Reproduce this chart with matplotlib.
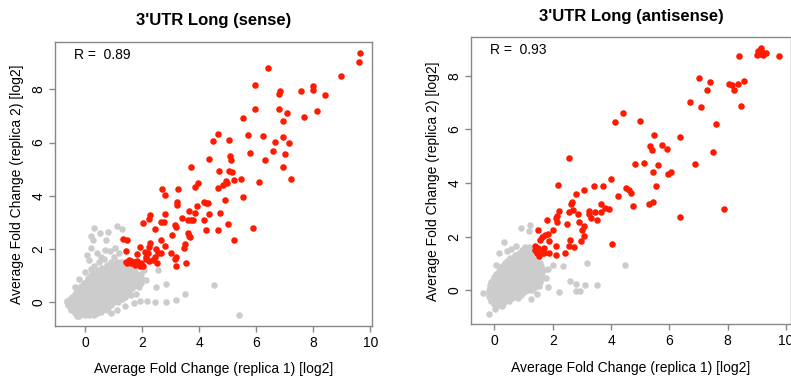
import matplotlib
matplotlib.use("Agg")
import matplotlib.pyplot as plt

plt.rcParams['font.family'] = ['Liberation Sans', 'DejaVu Sans']

# ---- data (log2 fold change, replica 1 vs replica 2) ----
titles = ["3'UTR Long (sense)", "3'UTR Long (antisense)"]
r_values = ["0.89", "0.93"]
xticks = [0, 2, 4, 6, 8, 10]
yticks = [0, 2, 4, 6, 8]

sense_red = [
    (9.65, 9.37), (9.61, 9.04), (6.41, 8.80), (8.97, 8.51), (5.96, 8.15), (8.0, 8.13),
    (8.0, 7.97), (7.58, 7.95), (6.82, 7.95), (6.79, 7.82), (8.41, 7.78), (5.97, 7.26),
    (6.79, 7.27), (8.12, 7.18), (7.07, 7.10), (7.67, 6.98), (5.55, 6.91), (6.95, 6.80),
    (4.66, 6.32), (5.72, 6.28), (6.22, 6.26), (5.03, 6.10), (6.95, 6.22), (4.48, 6.06),
    (6.66, 6.01), (7.16, 5.97), (6.58, 5.69), (5.79, 5.59), (7.01, 5.57), (4.34, 5.37),
    (5.09, 5.49), (5.10, 5.33), (6.31, 5.34), (3.71, 5.09), (6.93, 5.08), (4.68, 4.93),
    (5.06, 4.92), (5.15, 4.91), (7.21, 4.63), (5.23, 4.58), (5.48, 4.63), (4.95, 4.54),
    (4.99, 4.47), (4.85, 4.41), (3.97, 4.47), (6.10, 4.51), (3.85, 4.32), (4.67, 4.28),
    (2.70, 4.24), (3.27, 4.27), (2.79, 4.04), (5.52, 3.94), (4.92, 3.83), (4.15, 3.78),
    (4.22, 3.74), (4.29, 3.72), (3.22, 3.75), (3.23, 3.65), (3.92, 3.62), (3.84, 3.34),
    (3.63, 3.43), (2.80, 3.33), (4.73, 3.34), (4.36, 3.30), (2.26, 3.28), (2.24, 3.13),
    (3.38, 3.18), (3.78, 3.09), (3.72, 3.09), (3.62, 3.09), (4.15, 3.09), (2.67, 3.02),
    (2.75, 3.02), (2.01, 2.99), (5.01, 2.93), (3.14, 2.90), (3.17, 2.84), (2.44, 2.74),
    (5.88, 2.78), (4.22, 2.70), (4.66, 2.70), (3.62, 2.59), (3.65, 2.50), (3.66, 2.43),
    (3.05, 2.52), (1.33, 2.38), (1.45, 2.32), (2.66, 2.34), (5.22, 2.35), (3.50, 2.18),
    (2.28, 2.24), (2.24, 2.09), (2.81, 2.10), (1.91, 2.07), (1.44, 1.93), (3.47, 2.03),
    (2.09, 1.90), (2.21, 1.84), (2.50, 1.99), (2.56, 1.86), (3.02, 1.84), (2.67, 1.84),
    (1.82, 1.81), (3.20, 1.68), (3.16, 1.61), (2.38, 1.59), (2.44, 1.69), (2.15, 1.68),
    (2.12, 1.61), (2.53, 1.46), (1.54, 1.59), (1.47, 1.46), (1.62, 1.46), (1.74, 1.40),
    (1.80, 1.53), (1.91, 1.36), (1.97, 1.46), (2.24, 1.53), (3.20, 1.34), (3.55, 1.46),
    (1.42, 1.49), (2.03, 1.34), (1.60, 1.55), (1.70, 1.50), (1.85, 1.45),
]

sense_grey = [
    # scattered points
    (0.32, 2.80), (1.10, 2.88), (1.30, 2.75), (0.22, 2.47), (0.28, 2.34), (0.72, 2.34),
    (0.81, 2.65), (0.51, 2.59), (0.07, 1.78), (0.14, 1.59), (0.70, 1.97), (0.86, 1.94),
    (1.04, 2.03), (0.57, 1.71), (0.22, 2.03), (0.40, 1.85), (4.52, 0.63), (3.51, 0.30),
    (3.20, 0.06), (2.82, 0.0), (2.82, 0.68), (2.44, 0.0), (2.47, 0.56), (2.18, 0.05),
    (1.91, 0.05), (1.77, 0.31), (1.97, 0.71), (5.39, -0.50), (-0.28, -0.51),
    (-0.21, -0.51), (-0.65, 0.03), (2.56, 1.19), (2.15, 0.84), (1.95, 1.05),
    (-0.35, 0.55), (-0.2, 0.85), (0.0, 1.15), (0.3, 1.35), (0.5, 1.5), (0.2, 1.25),
    (1.9, 0.55), (2.0, 0.85), (1.7, -0.05), (1.4, -0.15), (1.1, -0.3), (0.9, -0.42),
    (0.65, 1.62), (1.0, 1.7), (1.2, 1.85), (2.05, 1.2),
    # dense cluster
    (-0.3, -0.5), (-0.2, -0.5), (0.0, -0.5), (0.15, -0.5), (0.3, -0.48),
    (-0.35, -0.4), (-0.1, -0.4), (0.05, -0.4), (0.2, -0.4), (0.4, -0.4), (0.55, -0.38),
    (-0.5, -0.3), (-0.3, -0.3), (-0.15, -0.3), (0.0, -0.3), (0.15, -0.3), (0.3, -0.3),
    (0.45, -0.3), (0.6, -0.3), (0.75, -0.28),
    (-0.55, -0.2), (-0.4, -0.2), (-0.25, -0.2), (-0.1, -0.2), (0.05, -0.2), (0.2, -0.2),
    (0.35, -0.2), (0.5, -0.2), (0.65, -0.2), (0.8, -0.2),
    (-0.6, -0.1), (-0.45, -0.1), (-0.3, -0.1), (-0.15, -0.1), (0.0, -0.1), (0.15, -0.1),
    (0.3, -0.1), (0.45, -0.1), (0.6, -0.1), (0.75, -0.1), (0.9, -0.1),
    (-0.65, 0.0), (-0.5, 0.0), (-0.35, 0.0), (-0.2, 0.0), (-0.05, 0.0), (0.1, 0.0),
    (0.25, 0.0), (0.4, 0.0), (0.55, 0.0), (0.7, 0.0), (0.85, 0.0), (1.0, 0.0), (1.15, 0.02),
    (-0.55, 0.1), (-0.4, 0.1), (-0.25, 0.1), (-0.1, 0.1), (0.05, 0.1), (0.2, 0.1),
    (0.35, 0.1), (0.5, 0.1), (0.65, 0.1), (0.8, 0.1), (0.95, 0.1), (1.1, 0.1), (1.3, 0.12),
    (-0.45, 0.2), (-0.3, 0.2), (-0.15, 0.2), (0.0, 0.2), (0.15, 0.2), (0.3, 0.2),
    (0.45, 0.2), (0.6, 0.2), (0.75, 0.2), (0.9, 0.2), (1.05, 0.2), (1.2, 0.2), (1.4, 0.2),
    (1.6, 0.25),
    (-0.35, 0.3), (-0.2, 0.3), (-0.05, 0.3), (0.1, 0.3), (0.25, 0.3), (0.4, 0.3),
    (0.55, 0.3), (0.7, 0.3), (0.85, 0.3), (1.0, 0.3), (1.15, 0.3), (1.3, 0.3), (1.5, 0.3),
    (-0.3, 0.4), (-0.15, 0.4), (0.0, 0.4), (0.15, 0.4), (0.3, 0.4), (0.45, 0.4),
    (0.6, 0.4), (0.75, 0.4), (0.9, 0.4), (1.05, 0.4), (1.2, 0.4), (1.35, 0.4), (1.55, 0.42),
    (-0.2, 0.5), (-0.05, 0.5), (0.1, 0.5), (0.25, 0.5), (0.4, 0.5), (0.55, 0.5),
    (0.7, 0.5), (0.85, 0.5), (1.0, 0.5), (1.15, 0.5), (1.3, 0.5), (1.45, 0.5), (1.65, 0.52),
    (-0.15, 0.6), (0.0, 0.6), (0.15, 0.6), (0.3, 0.6), (0.45, 0.6), (0.6, 0.6),
    (0.75, 0.6), (0.9, 0.6), (1.05, 0.6), (1.2, 0.6), (1.35, 0.6), (1.5, 0.6), (1.7, 0.62),
    (-0.05, 0.7), (0.1, 0.7), (0.25, 0.7), (0.4, 0.7), (0.55, 0.7), (0.7, 0.7),
    (0.85, 0.7), (1.0, 0.7), (1.15, 0.7), (1.3, 0.7), (1.45, 0.7), (1.6, 0.7), (1.8, 0.72),
    (0.05, 0.8), (0.2, 0.8), (0.35, 0.8), (0.5, 0.8), (0.65, 0.8), (0.8, 0.8),
    (0.95, 0.8), (1.1, 0.8), (1.25, 0.8), (1.4, 0.8), (1.55, 0.8), (1.75, 0.82),
    (0.1, 0.9), (0.3, 0.9), (0.45, 0.9), (0.6, 0.9), (0.75, 0.9), (0.9, 0.9),
    (1.05, 0.9), (1.2, 0.9), (1.35, 0.9), (1.5, 0.9), (1.65, 0.9), (1.85, 0.92),
    (0.2, 1.0), (0.4, 1.0), (0.55, 1.0), (0.7, 1.0), (0.85, 1.0), (1.0, 1.0),
    (1.15, 1.0), (1.3, 1.0), (1.45, 1.0), (1.6, 1.0), (1.8, 1.02),
    (0.3, 1.1), (0.5, 1.1), (0.7, 1.1), (0.85, 1.1), (1.0, 1.1), (1.15, 1.1),
    (1.3, 1.1), (1.45, 1.1), (1.6, 1.1), (1.75, 1.12),
    (0.45, 1.2), (0.65, 1.2), (0.8, 1.2), (0.95, 1.2), (1.1, 1.2), (1.25, 1.2),
    (1.4, 1.2), (1.55, 1.2), (1.7, 1.2),
    (0.6, 1.3), (0.8, 1.3), (1.0, 1.3), (1.15, 1.3), (1.3, 1.3), (1.45, 1.3), (1.6, 1.3),
    (0.75, 1.4), (0.95, 1.4), (1.15, 1.4), (1.3, 1.4),
    (0.9, 1.5), (1.1, 1.5), (1.25, 1.52),
]

antisense_red = [
    (9.13, 9.03), (9.05, 8.94), (9.17, 8.87), (8.99, 8.78), (9.22, 8.78), (9.30, 8.84),
    (9.11, 8.81), (8.40, 8.75), (9.76, 8.72), (7.02, 7.91), (7.39, 7.75), (8.05, 7.70),
    (8.16, 7.65), (8.37, 7.70), (8.56, 7.79), (8.20, 7.45), (7.29, 7.45), (6.72, 7.03),
    (7.08, 6.83), (8.44, 6.88), (4.41, 6.61), (4.15, 6.27), (4.98, 6.30), (7.60, 6.21),
    (6.38, 5.71), (5.49, 5.80), (5.32, 5.37), (5.40, 5.24), (5.74, 5.43), (5.91, 5.27),
    (7.51, 5.17), (2.56, 4.92), (4.81, 4.72), (5.14, 4.75), (6.87, 4.72), (5.61, 4.66),
    (5.43, 4.42), (6.06, 4.41), (5.97, 4.34), (4.01, 4.14), (5.54, 3.90), (2.19, 3.91),
    (3.42, 3.88), (3.71, 3.88), (4.51, 3.81), (4.60, 3.75), (4.70, 3.63), (3.06, 3.75),
    (2.79, 3.60), (4.24, 3.52), (2.66, 3.28), (2.64, 3.22), (3.65, 3.22), (5.43, 3.28),
    (5.30, 3.23), (4.76, 3.13), (3.80, 3.07), (3.93, 3.03), (2.23, 2.97), (2.14, 2.78),
    (2.55, 2.91), (3.25, 2.97), (3.26, 2.84), (3.46, 2.92), (3.65, 2.92), (2.69, 2.98),
    (2.88, 2.83), (3.32, 2.70), (3.52, 2.63), (6.38, 2.72), (1.80, 2.63), (2.11, 2.70),
    (2.14, 2.55), (2.49, 2.46), (2.91, 2.56), (3.07, 2.41), (3.01, 2.26), (7.87, 3.03),
    (1.50, 2.26), (2.02, 2.26), (1.83, 2.11), (1.74, 2.06), (1.63, 1.99), (1.58, 1.89),
    (3.09, 2.04), (1.87, 1.85), (2.60, 1.86), (2.96, 1.85), (4.03, 1.74), (1.40, 1.64),
    (1.50, 1.58), (2.12, 1.64), (2.55, 1.64), (2.73, 1.61), (1.69, 1.58), (1.46, 1.39),
    (1.63, 1.39), (1.54, 1.29), (1.69, 1.39), (1.88, 1.39), (2.12, 1.33), (2.43, 1.39),
    (1.40, 1.49), (1.58, 1.45),
]

antisense_grey = [
    # scattered points
    (0.90, 2.31), (1.21, 2.43), (0.32, 1.79), (0.15, 1.39), (0.58, 1.54), (-0.39, -0.12),
    (-0.17, -0.87), (0.01, -0.70), (1.24, -0.32), (4.49, 0.96), (3.18, 1.02), (2.35, 0.89),
    (2.02, 0.93), (1.84, 0.80), (1.77, 0.47), (2.60, 0.36), (2.81, 0.25), (3.11, 0.19),
    (3.53, 0.19), (2.81, -0.01), (2.92, -0.01), (2.23, -0.06), (1.84, 0.12), (1.54, 0.17),
    (0.45, 1.45), (0.75, 1.65), (1.2, 2.2), (0.05, 0.95), (1.7, 0.75), (1.45, -0.15),
    # dense cluster
    (0.1, -0.6), (0.25, -0.6),
    (0.0, -0.5), (0.15, -0.5), (0.3, -0.5),
    (-0.1, -0.4), (0.05, -0.4), (0.2, -0.4), (0.35, -0.4), (0.5, -0.4),
    (-0.15, -0.3), (0.0, -0.3), (0.15, -0.3), (0.3, -0.3), (0.45, -0.3), (0.6, -0.3),
    (0.8, -0.28),
    (-0.2, -0.2), (-0.05, -0.2), (0.1, -0.2), (0.25, -0.2), (0.4, -0.2), (0.55, -0.2),
    (0.7, -0.2), (0.9, -0.18),
    (-0.2, -0.1), (-0.05, -0.1), (0.1, -0.1), (0.25, -0.1), (0.4, -0.1), (0.55, -0.1),
    (0.7, -0.1), (0.85, -0.1), (1.0, -0.08),
    (-0.2, 0.0), (-0.05, 0.0), (0.1, 0.0), (0.25, 0.0), (0.4, 0.0), (0.55, 0.0),
    (0.7, 0.0), (0.85, 0.0), (1.0, 0.0), (1.15, 0.0), (1.3, 0.02),
    (-0.15, 0.1), (0.0, 0.1), (0.15, 0.1), (0.3, 0.1), (0.45, 0.1), (0.6, 0.1),
    (0.75, 0.1), (0.9, 0.1), (1.05, 0.1), (1.2, 0.1), (1.4, 0.12),
    (-0.15, 0.2), (0.0, 0.2), (0.15, 0.2), (0.3, 0.2), (0.45, 0.2), (0.6, 0.2),
    (0.75, 0.2), (0.9, 0.2), (1.05, 0.2), (1.2, 0.2), (1.35, 0.2), (1.5, 0.22),
    (-0.1, 0.3), (0.05, 0.3), (0.2, 0.3), (0.35, 0.3), (0.5, 0.3), (0.65, 0.3),
    (0.8, 0.3), (0.95, 0.3), (1.1, 0.3), (1.25, 0.3), (1.4, 0.3), (1.55, 0.32),
    (-0.05, 0.4), (0.1, 0.4), (0.25, 0.4), (0.4, 0.4), (0.55, 0.4), (0.7, 0.4),
    (0.85, 0.4), (1.0, 0.4), (1.15, 0.4), (1.3, 0.4), (1.45, 0.4), (1.6, 0.42),
    (0.0, 0.5), (0.15, 0.5), (0.3, 0.5), (0.45, 0.5), (0.6, 0.5), (0.75, 0.5),
    (0.9, 0.5), (1.05, 0.5), (1.2, 0.5), (1.35, 0.5), (1.5, 0.5), (1.65, 0.52),
    (0.05, 0.6), (0.2, 0.6), (0.35, 0.6), (0.5, 0.6), (0.65, 0.6), (0.8, 0.6),
    (0.95, 0.6), (1.1, 0.6), (1.25, 0.6), (1.4, 0.6), (1.55, 0.6),
    (0.15, 0.7), (0.3, 0.7), (0.45, 0.7), (0.6, 0.7), (0.75, 0.7), (0.9, 0.7),
    (1.05, 0.7), (1.2, 0.7), (1.35, 0.7), (1.5, 0.7), (1.65, 0.72),
    (0.2, 0.8), (0.35, 0.8), (0.5, 0.8), (0.65, 0.8), (0.8, 0.8), (0.95, 0.8),
    (1.1, 0.8), (1.25, 0.8), (1.4, 0.8), (1.55, 0.8),
    (0.25, 0.9), (0.4, 0.9), (0.55, 0.9), (0.7, 0.9), (0.85, 0.9), (1.0, 0.9),
    (1.15, 0.9), (1.3, 0.9), (1.45, 0.9), (1.6, 0.9),
    (0.35, 1.0), (0.5, 1.0), (0.65, 1.0), (0.8, 1.0), (0.95, 1.0), (1.1, 1.0),
    (1.25, 1.0), (1.4, 1.0), (1.55, 1.0),
    (0.45, 1.1), (0.6, 1.1), (0.75, 1.1), (0.9, 1.1), (1.05, 1.1), (1.2, 1.1),
    (1.35, 1.1), (1.5, 1.1),
    (0.55, 1.2), (0.7, 1.2), (0.85, 1.2), (1.0, 1.2), (1.15, 1.2), (1.3, 1.2), (1.45, 1.2),
    (0.7, 1.3), (0.85, 1.3), (1.0, 1.3), (1.15, 1.3), (1.3, 1.3), (1.45, 1.3),
    (0.85, 1.4), (1.0, 1.4), (1.15, 1.4), (1.3, 1.4),
    (0.95, 1.5), (1.1, 1.5), (1.25, 1.5),
    (1.05, 1.6), (1.2, 1.6),
]

RED = '#ff1a00'
GREY = '#cccccc'
FRAME = '#888888'


def draw_panel(ax, grey, red, title, r_text, xlim, ylim):
    gx, gy = zip(*grey)
    rx, ry = zip(*red)
    ax.scatter(gx, gy, s=22, c=GREY, linewidths=0, zorder=2)
    ax.scatter(rx, ry, s=22, c=RED, linewidths=0, zorder=3)
    ax.set_xlim(*xlim)
    ax.set_ylim(*ylim)
    ax.set_xticks(xticks)
    ax.set_yticks(yticks)
    ax.set_yticklabels([str(v) for v in yticks], rotation=90, va='center')
    for sp in ax.spines.values():
        sp.set_color(FRAME)
        sp.set_linewidth(1.0)
    ax.tick_params(direction='out', length=4, width=1, color=FRAME,
                   labelsize=10, pad=3)
    ax.set_xlabel('Average Fold Change (replica 1) [log2]', fontsize=10, labelpad=9)
    ax.set_ylabel('Average Fold Change (replica 2) [log2]', fontsize=10, labelpad=5)
    ax.set_title(title, fontsize=12, fontweight='bold', pad=12)
    ax.text(0.06, 0.955, 'R =  ' + r_text, transform=ax.transAxes,
            fontsize=10, ha='left', va='center')


fig = plt.figure(figsize=(7.91, 3.76), dpi=100)
ax1 = fig.add_axes([0.0695, 0.133, 0.4008, 0.755])
ax2 = fig.add_axes([0.5955, 0.1375, 0.4045, 0.763])

draw_panel(ax1, sense_grey, sense_red, titles[0], r_values[0], (-1.06, 10.06), (-0.9, 9.78))
draw_panel(ax2, antisense_grey, antisense_red, titles[1], r_values[1], (-0.8, 10.17), (-1.27, 9.43))

fig.savefig('out.png', dpi=100)
